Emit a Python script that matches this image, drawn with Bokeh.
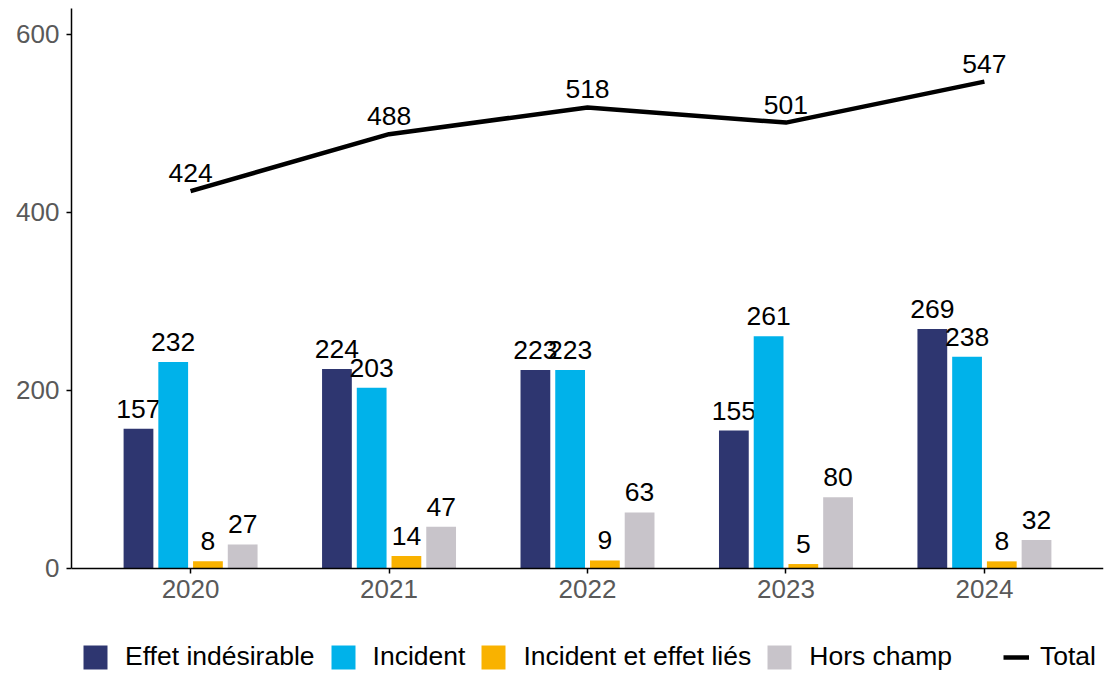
from bokeh.plotting import figure
from bokeh.models import ColumnDataSource, FactorRange, Range1d, Legend, LegendItem, FixedTicker
from bokeh.transform import dodge
from bokeh.core.properties import value
from bokeh.embed import file_html
from bokeh.resources import INLINE

years = ["2020", "2021", "2022", "2023", "2024"]
effet = [157, 224, 223, 155, 269]
incident = [232, 203, 223, 261, 238]
lies = [8, 14, 9, 5, 8]
hors = [27, 47, 63, 80, 32]
total = [424, 488, 518, 501, 547]
series_names = ["Effet indésirable", "Incident", "Incident et effet liés", "Hors champ"]
series_vals = [effet, incident, lies, hors]
colors = ["#2E3670", "#00B2EA", "#F9B200", "#C8C4CA"]
offsets = [-0.2625, -0.0875, 0.0875, 0.2625]

FONT = value("Liberation Sans")

p = figure(width=1110, height=673,
           x_range=FactorRange(factors=years, range_padding=0.1, range_padding_units="absolute"),
           y_range=Range1d(-118, 629.2),
           output_backend="svg", toolbar_location=None,
           min_border_left=71, min_border_right=7, min_border_top=8, min_border_bottom=0)
p.outline_line_color = None
p.xgrid.visible = False
p.ygrid.visible = False

bar_renderers = []
for name, vals, col, off in zip(series_names, series_vals, colors, offsets):
    src = ColumnDataSource(dict(x=years, y=vals, lab=[str(v) for v in vals]))
    r = p.vbar(x=dodge("x", off, range=p.x_range), top="y", width=0.15, source=src,
               fill_color=col, line_color=None)
    bar_renderers.append(r)
    p.text(x=dodge("x", off, range=p.x_range), y="y", text="lab", source=src,
           text_align="center", text_baseline="alphabetic", y_offset=-20,
           text_font_size="26.5px", text_font=FONT, text_color="black")

tsrc = ColumnDataSource(dict(x=years, y=total, lab=[str(v) for v in total]))
line_r = p.line(x="x", y="y", source=tsrc, line_width=4.5, line_color="black")
p.text(x="x", y="y", text="lab", source=tsrc, text_align="center", text_baseline="alphabetic",
       y_offset=-18, text_font_size="26.5px", text_font=FONT, text_color="black")

p.yaxis.ticker = FixedTicker(ticks=[0, 200, 400, 600])
p.yaxis.bounds = (0, 629.2)
p.xaxis.fixed_location = 0
for ax in (p.xaxis, p.yaxis):
    ax.minor_tick_line_color = None
    ax.major_tick_in = 0
    ax.major_tick_out = 5
    ax.axis_line_width = 1.5
    ax.major_tick_line_width = 1.5
    ax.axis_line_color = "black"
    ax.major_tick_line_color = "black"
    ax.major_label_text_font_size = "26px"
    ax.major_label_text_font = "Liberation Sans"
    ax.major_label_text_color = "#595959"
    ax.major_label_standoff = 7

leg_common = dict(orientation="horizontal", glyph_height=30, spacing=13,
                  padding=0, margin=0, border_line_color=None, background_fill_alpha=0,
                  label_text_font_size="26.5px", label_text_font="Liberation Sans",
                  label_text_color="black", label_height=30)
leg1 = Legend(items=[LegendItem(label=n, renderers=[r]) for n, r in zip(series_names, bar_renderers)],
              location=(9, 1), glyph_width=30, label_standoff=15, **leg_common)
leg2 = Legend(items=[LegendItem(label="Total", renderers=[line_r])],
              location=(932, 1), glyph_width=26, label_standoff=11, **leg_common)
p.add_layout(leg1)
p.add_layout(leg2)

open("out.html", "w").write(file_html(p, INLINE))
